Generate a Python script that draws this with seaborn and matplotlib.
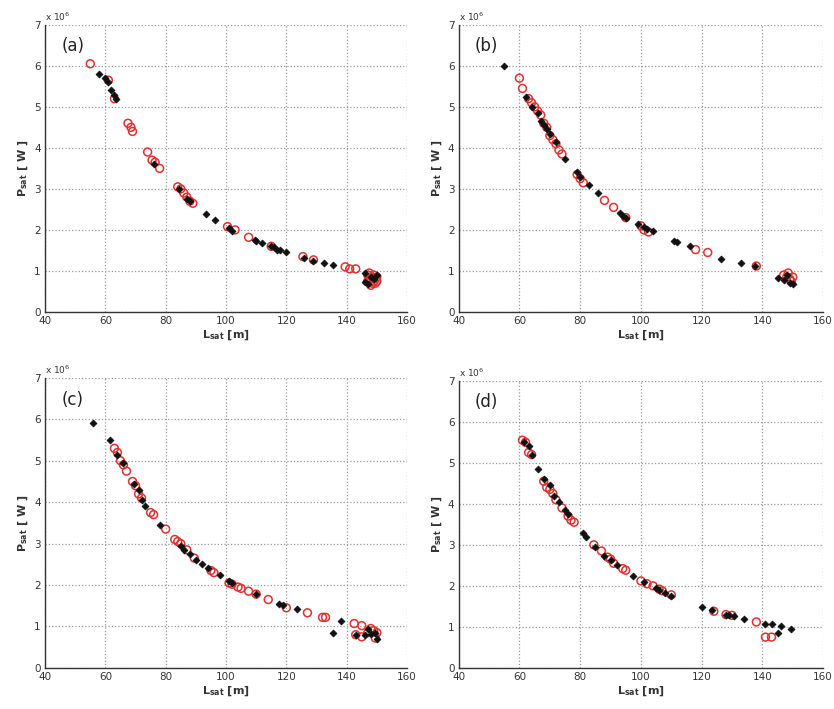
import pandas as pd
import matplotlib
matplotlib.use('Agg')
import matplotlib.pyplot as plt
import seaborn as sns

# Данные (L_sat [m], P_sat [x10^6 W])
a_red_L = [55, 61, 63, 67.5, 68.5, 69, 74, 75.5, 76.5, 78, 84, 85, 86, 87, 88, 89, 100.5, 103, 107.5, 115,
           125.5, 129, 139.5, 141, 143, 147, 148, 149, 148.5, 147.5, 150, 149, 148, 147, 150, 148.5, 149.5, 147.5]
a_red_P = [6.05, 5.65, 5.2, 4.6, 4.5, 4.4, 3.9, 3.7, 3.65, 3.5, 3.05, 3.0, 2.9, 2.8, 2.7, 2.65, 2.08, 2.0, 1.82, 1.6,
           1.35, 1.27, 1.1, 1.05, 1.05, 0.9, 0.8, 0.75, 0.7, 0.95, 0.85, 0.9, 0.65, 0.75, 0.75, 0.85, 0.7, 0.8]
a_blk_L = [58, 60, 61, 62, 63, 63.5, 76, 84.5, 87, 88, 93.5, 96.5, 101, 102, 109.5, 110, 112, 115, 116, 117,
           118, 120, 126, 129, 132.5, 135.5, 146, 146, 148, 149, 150, 147]
a_blk_P = [5.8, 5.7, 5.6, 5.4, 5.3, 5.2, 3.6, 3.0, 2.75, 2.7, 2.4, 2.25, 2.05, 1.98, 1.75, 1.72, 1.68, 1.62, 1.58, 1.52,
           1.5, 1.45, 1.32, 1.25, 1.2, 1.15, 0.95, 0.72, 0.85, 0.8, 0.9, 0.68]

b_red_L = [60, 61, 63, 64, 65, 66, 67, 68, 69, 70, 71, 72, 73, 74, 79, 80, 81, 88, 91, 95,
           100, 101, 102.5, 118, 122, 138, 147, 148, 149, 150, 148.5, 149.5]
b_red_P = [5.7, 5.45, 5.2, 5.1, 5.0, 4.9, 4.8, 4.6, 4.5, 4.3, 4.2, 4.1, 3.95, 3.85, 3.35, 3.25, 3.15, 2.72, 2.55, 2.3,
           2.1, 2.0, 1.95, 1.52, 1.45, 1.12, 0.9, 0.85, 0.8, 0.85, 0.95, 0.75]
b_blk_L = [55, 62, 64, 66, 67, 68, 69, 70, 72, 75, 79, 80, 83, 86, 93, 94, 95, 99, 101, 102,
           104, 111, 112, 116, 126.5, 133, 137.5, 145, 147, 149, 150, 148]
b_blk_P = [6.0, 5.25, 5.0, 4.85, 4.65, 4.55, 4.45, 4.35, 4.15, 3.72, 3.4, 3.3, 3.1, 2.9, 2.42, 2.35, 2.3, 2.15, 2.08, 2.02,
           1.98, 1.72, 1.7, 1.6, 1.3, 1.2, 1.12, 0.82, 0.78, 0.7, 0.68, 0.9]

c_red_L = [63, 64, 65, 66, 67, 69, 70, 71, 72, 75, 76, 80, 83, 84, 85, 87, 89.5, 95, 96, 101,
           102, 104, 105, 107.5, 110, 114, 120, 127, 132, 133, 142.5, 145, 143, 145, 148, 149, 150, 149.5, 147]
c_red_P = [5.3, 5.2, 5.0, 4.9, 4.75, 4.5, 4.4, 4.2, 4.1, 3.75, 3.7, 3.35, 3.1, 3.05, 3.0, 2.85, 2.65, 2.35, 2.3, 2.05,
           2.02, 1.95, 1.92, 1.85, 1.78, 1.65, 1.45, 1.33, 1.22, 1.22, 1.07, 1.02, 0.8, 0.75, 0.95, 0.9, 0.85, 0.72, 0.85]
c_blk_L = [56, 61.5, 64, 66, 69.5, 71, 72, 73, 78, 85, 86, 88, 90, 92, 94, 98, 101, 102, 110, 117.5,
           119, 123.5, 135.5, 138, 143, 147, 148, 149.5, 150, 146]
c_blk_P = [5.9, 5.5, 5.15, 4.95, 4.45, 4.3, 4.05, 3.9, 3.45, 2.95, 2.85, 2.75, 2.6, 2.5, 2.42, 2.25, 2.1, 2.05, 1.78, 1.55,
           1.52, 1.42, 0.85, 1.12, 0.8, 0.95, 0.82, 0.85, 0.7, 0.8]

d_red_L = [61, 62, 63, 64, 68, 69, 70, 71, 72, 74, 76, 77, 78, 84.5, 87, 89, 90, 91, 94, 95,
           100, 102, 104, 106, 107, 110, 124, 128, 130, 138, 141, 143]
d_red_P = [5.55, 5.5, 5.25, 5.2, 4.55, 4.4, 4.35, 4.25, 4.1, 3.9, 3.7, 3.6, 3.55, 3.0, 2.85, 2.7, 2.65, 2.55, 2.42, 2.38,
           2.12, 2.05, 2.0, 1.92, 1.88, 1.78, 1.38, 1.3, 1.28, 1.12, 0.75, 0.75]
d_blk_L = [61.5, 63, 64, 66, 68, 70, 71.5, 73, 75, 76, 81, 82, 85, 88, 90, 92, 97.5, 101, 105, 106,
           108, 110, 120, 123.5, 128, 129, 130.5, 134, 141, 143, 145, 146, 149.5]
d_blk_P = [5.5, 5.4, 5.2, 4.85, 4.6, 4.45, 4.2, 4.05, 3.85, 3.75, 3.28, 3.2, 2.95, 2.72, 2.62, 2.5, 2.25, 2.1, 1.95, 1.9,
           1.82, 1.75, 1.48, 1.42, 1.3, 1.28, 1.26, 1.2, 1.08, 1.08, 0.85, 1.03, 0.95]

panels = [
    ('(a)', a_red_L, a_red_P, a_blk_L, a_blk_P),
    ('(b)', b_red_L, b_red_P, b_blk_L, b_blk_P),
    ('(c)', c_red_L, c_red_P, c_blk_L, c_blk_P),
    ('(d)', d_red_L, d_red_P, d_blk_L, d_blk_P),
]

x_ticks = [40, 60, 80, 100, 120, 140, 160]
y_ticks = [0, 1, 2, 3, 4, 5, 6, 7]

sns.set_style('white')
plt.rcParams['font.family'] = ['DejaVu Sans']

fig = plt.figure(figsize=(8.34, 7.09), dpi=100)
# позиции осей [left, bottom, width, height]
boxes = [
    [0.054, 0.560, 0.434, 0.405],
    [0.550, 0.560, 0.437, 0.405],
    [0.054, 0.058, 0.434, 0.409],
    [0.550, 0.058, 0.437, 0.405],
]

for (name, rL, rP, bL, bP), box in zip(panels, boxes):
    ax = fig.add_axes(box)
    red_df = pd.DataFrame({'L': rL, 'P': rP})
    blk_df = pd.DataFrame({'L': bL, 'P': bP})
    sns.scatterplot(data=red_df, x='L', y='P', ax=ax, marker='o', s=32,
                    facecolor='none', edgecolor='#e03030', linewidth=1.1, zorder=3)
    sns.scatterplot(data=blk_df, x='L', y='P', ax=ax, marker='D', s=12,
                    color='#111111', edgecolor='#111111', linewidth=0.6, zorder=4)
    ax.set_xlim(40, 160)
    ax.set_ylim(0, 7)
    ax.set_xticks(x_ticks)
    ax.set_yticks(y_ticks)
    ax.tick_params(direction='in', length=3, labelsize=7.5, colors='#333333', pad=3)
    ax.grid(True, linestyle=':', color='#999999', linewidth=0.9)
    ax.set_axisbelow(True)
    for side in ['top', 'right']:
        ax.spines[side].set_visible(False)
    for side in ['left', 'bottom']:
        ax.spines[side].set_color('#333333')
        ax.spines[side].set_linewidth(1.0)
    ax.set_xlabel(r'L$_{\mathbf{sat}}$ [m]', fontsize=8, fontweight='bold', color='#333333', labelpad=2)
    ax.set_ylabel(r'P$_{\mathbf{sat}}$ [ W ]', fontsize=8, fontweight='bold', color='#333333', labelpad=3)
    ax.text(0.0, 1.005, r'x 10$^6$', transform=ax.transAxes, fontsize=6.5, color='#333333',
            ha='left', va='bottom')
    ax.text(0.045, 0.925, name, transform=ax.transAxes, fontsize=12, color='#222222',
            ha='left', va='center')

fig.savefig('out.png', dpi=100)
